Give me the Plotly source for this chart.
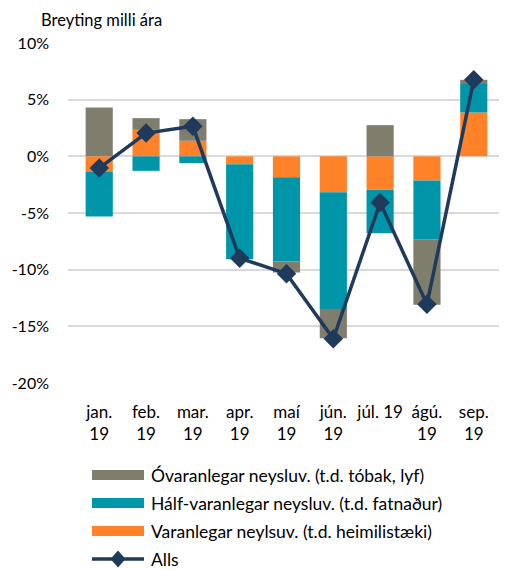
import plotly.graph_objects as go

categories = ["jan.<br>19", "feb.<br>19", "mar.<br>19", "apr.<br>19", "maí<br>19",
              "jún.<br>19", "júl. 19", "ágú.<br>19", "sep.<br>19"]
varanlegar = [-1.34, 2.34, 1.37, -0.69, -1.84, -3.16, -2.96, -2.13, 3.87]
halfvaranlegar = [-3.96, -1.28, -0.60, -8.38, -7.44, -10.30, -3.82, -5.18, 2.59]
ovaranlegar = [4.30, 1.03, 1.91, 0.0, -0.97, -2.59, 2.75, -5.79, 0.29]
alls = [-1.04, 2.05, 2.65, -8.99, -10.35, -16.1, -4.08, -13.05, 6.75]
ytick_vals = [-20, -15, -10, -5, 0, 5, 10]
ytick_text = ["-20%", "-15%", "-10%", "-5%", "0%", "5%", "10%"]

names = ["Óvaranlegar neysluv. (t.d. tóbak, lyf)",
         "Hálf-varanlegar neysluv. (t.d. fatnaður)",
         "Varanlegar neylsuv. (t.d. heimilistæki)",
         "Alls"]
col_ovar = "#7F7E6C"
col_half = "#0095A8"
col_var = "#FF8228"
col_line = "#1F3A5C"

font_family = "Lato, 'Open Sans', sans-serif"

OFF = 8  # page body margin
W, H = 507 - OFF, 570 - OFF
ML, MR, MT, MB = 60, 2, 35, 187
PW, PH = W - ML - MR, H - MT - MB


def px_x(px):
    return (px - OFF - ML) / PW


def px_y(py):
    return (H - MB - (py - OFF)) / PH


fig = go.Figure()
fig.add_trace(go.Bar(x=categories, y=varanlegar, name=names[2],
                     marker=dict(color=col_var, line=dict(width=0))))
fig.add_trace(go.Bar(x=categories, y=halfvaranlegar, name=names[1],
                     marker=dict(color=col_half, line=dict(width=0))))
fig.add_trace(go.Bar(x=categories, y=ovaranlegar, name=names[0],
                     marker=dict(color=col_ovar, line=dict(width=0))))
fig.add_trace(go.Scatter(x=categories, y=alls, name=names[3], mode="lines+markers",
                         line=dict(color=col_line, width=3.5),
                         marker=dict(symbol="diamond", size=15, color=col_line)))

# manual legend (wide swatches as in the reference)
shapes = []
annotations = []
rows = [475, 503, 531, 559]
cols = [col_ovar, col_half, col_var]
x0, x1, xt = px_x(92), px_x(144), px_x(149)
for i, c in enumerate(cols):
    yc = px_y(rows[i])
    hh = 5 / PH
    shapes.append(dict(type="rect", xref="paper", yref="paper", x0=x0, x1=x1,
                       y0=yc - hh, y1=yc + hh, fillcolor=c, line=dict(width=0)))
yc = px_y(rows[3])
shapes.append(dict(type="line", xref="paper", yref="paper", x0=x0, x1=x1, y0=yc, y1=yc,
                   line=dict(color=col_line, width=3.5)))
xc = px_x(118)
hw, hh = 7.5 / PW, 8.5 / PH
shapes.append(dict(type="path", xref="paper", yref="paper",
                   path=f"M {xc-hw},{yc} L {xc},{yc+hh} L {xc+hw},{yc} L {xc},{yc-hh} Z",
                   fillcolor=col_line, line=dict(width=0)))
for i, n in enumerate(names):
    annotations.append(dict(text=n, x=xt, y=px_y(rows[i]), xref="paper", yref="paper",
                            xanchor="left", yanchor="middle", showarrow=False,
                            font=dict(size=17.5)))
annotations.append(dict(text="Breyting milli ára", x=px_x(39), y=px_y(8.5),
                        xref="paper", yref="paper", xanchor="left", yanchor="top",
                        showarrow=False, font=dict(size=16.5)))

fig.update_layout(
    width=W, height=H,
    barmode="relative",
    bargap=0.42,
    plot_bgcolor="white", paper_bgcolor="white",
    margin=dict(l=ML, r=MR, t=MT, b=MB, autoexpand=False),
    font=dict(family=font_family, size=17, color="#000000"),
    showlegend=False,
    shapes=shapes,
    annotations=annotations,
)

fig.update_yaxes(range=[-20, 10], tickvals=ytick_vals, ticktext=ytick_text,
                 showgrid=True, gridcolor="#D9D9D9", gridwidth=1.5,
                 zeroline=False, showline=False, ticks="", ticklabelstandoff=18,
                 tickfont=dict(size=16), automargin=False)
fig.update_xaxes(showgrid=False, showline=False, zeroline=False, ticks="",
                 tickfont=dict(size=17), ticklabelstandoff=17, tickangle=0,
                 automargin=False)

fig.write_html("out.html")
